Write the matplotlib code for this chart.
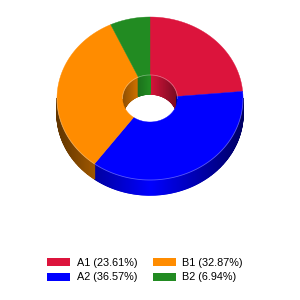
import numpy as np
import matplotlib
matplotlib.use('Agg')
import matplotlib.pyplot as plt
from matplotlib.patches import Polygon, Ellipse, Patch
from matplotlib.collections import PolyCollection
from matplotlib.colors import to_rgb

labels = ["A1", "A2", "B1", "B2"]
shares = [23.61, 36.57, 32.87, 6.94]
colors = ["#dc143c", "#0000ff", "#ff8c00", "#228b22"]

# donut geometry in pixels
cx, cy = 150, 98.5
rx, ry = 93, 81.5
irx, iry = 27.5, 23.5
d_out, d_in = 15, 19


def pt(t, a, b):
    # t measured clockwise from 12 o'clock
    return cx + a * np.sin(t), cy - b * np.cos(t)


def shade(c, t, k):
    return tuple(np.array(to_rgb(c)) * (1 - k * abs(np.sin(t))))


def strips(t0, t1, a, b, d, c, k):
    qs, cs = [], []
    ts = np.linspace(t0, t1, int((t1 - t0) * 80) + 2)
    for u, v in zip(ts[:-1], ts[1:]):
        x0, y0 = pt(u, a, b)
        x1, y1 = pt(v, a, b)
        qs.append([(x0, y0), (x1, y1), (x1, y1 + d), (x0, y0 + d)])
        cs.append(shade(c, (u + v) / 2, k))
    return qs, cs


fig = plt.figure(figsize=(3, 3), dpi=100)
ax = fig.add_axes([0, 0, 1, 1])
ax.set_xlim(0, 300)
ax.set_ylim(300, 0)
ax.axis('off')

frac = np.array(shares) / sum(shares)
edges = np.concatenate([[0], np.cumsum(frac)]) * 2 * np.pi

# outer side wall (front half)
quads, qcols = [], []
for i in range(len(shares)):
    t0, t1 = max(edges[i], np.pi / 2), min(edges[i + 1], 1.5 * np.pi)
    if t1 > t0:
        q, c = strips(t0, t1, rx, ry, d_out, colors[i], 0.62)
        quads += q
        qcols += c
ax.add_collection(PolyCollection(quads, facecolors=qcols, edgecolors=qcols, linewidths=1.0))

# inner wall seen through the hole (back half)
quads, qcols = [], []
for i in range(len(shares)):
    for lo, hi in [(0, np.pi / 2), (1.5 * np.pi, 2 * np.pi)]:
        t0, t1 = max(edges[i], lo), min(edges[i + 1], hi)
        if t1 > t0:
            q, c = strips(t0, t1, irx, iry, d_in, colors[i], 0.45)
            quads += q
            qcols += c
hole = Ellipse((cx, cy), 2 * irx, 2 * iry, transform=ax.transData)
inner = PolyCollection(quads, facecolors=qcols, edgecolors=qcols, linewidths=1.0)
ax.add_collection(inner)
inner.set_clip_path(hole)

# top faces
for i in range(len(shares)):
    ts = np.linspace(edges[i], edges[i + 1], 120)
    ox, oy = pt(ts, rx, ry)
    ix, iy = pt(ts[::-1], irx, iry)
    verts = np.column_stack([np.concatenate([ox, ix]), np.concatenate([oy, iy])])
    ax.add_patch(Polygon(verts, closed=True, fc=colors[i], ec=colors[i], lw=0.3))

# faint light seams
ts = np.linspace(np.pi / 2, 1.5 * np.pi, 100)
ax.plot(*pt(ts, rx, ry), color='white', lw=0.6, alpha=0.35)
ts = np.linspace(-np.pi / 2, np.pi / 2, 100)
ax.plot(*pt(ts, irx, iry), color='white', lw=0.6, alpha=0.35)

handles = [Patch(fc=c, ec='none', label=f"{l} ({s:.2f}%)") for l, s, c in zip(labels, shares, colors)]
ax.legend(handles=handles, ncol=2, loc='center', bbox_to_anchor=(145 / 300, 1 - 270 / 300),
          frameon=False, prop={'family': 'Liberation Sans', 'size': 7.8},
          handlelength=2.15, handleheight=0.8, handletextpad=0.6,
          columnspacing=1.4, labelspacing=0.45, borderpad=0)

fig.savefig("out.png", dpi=100)
